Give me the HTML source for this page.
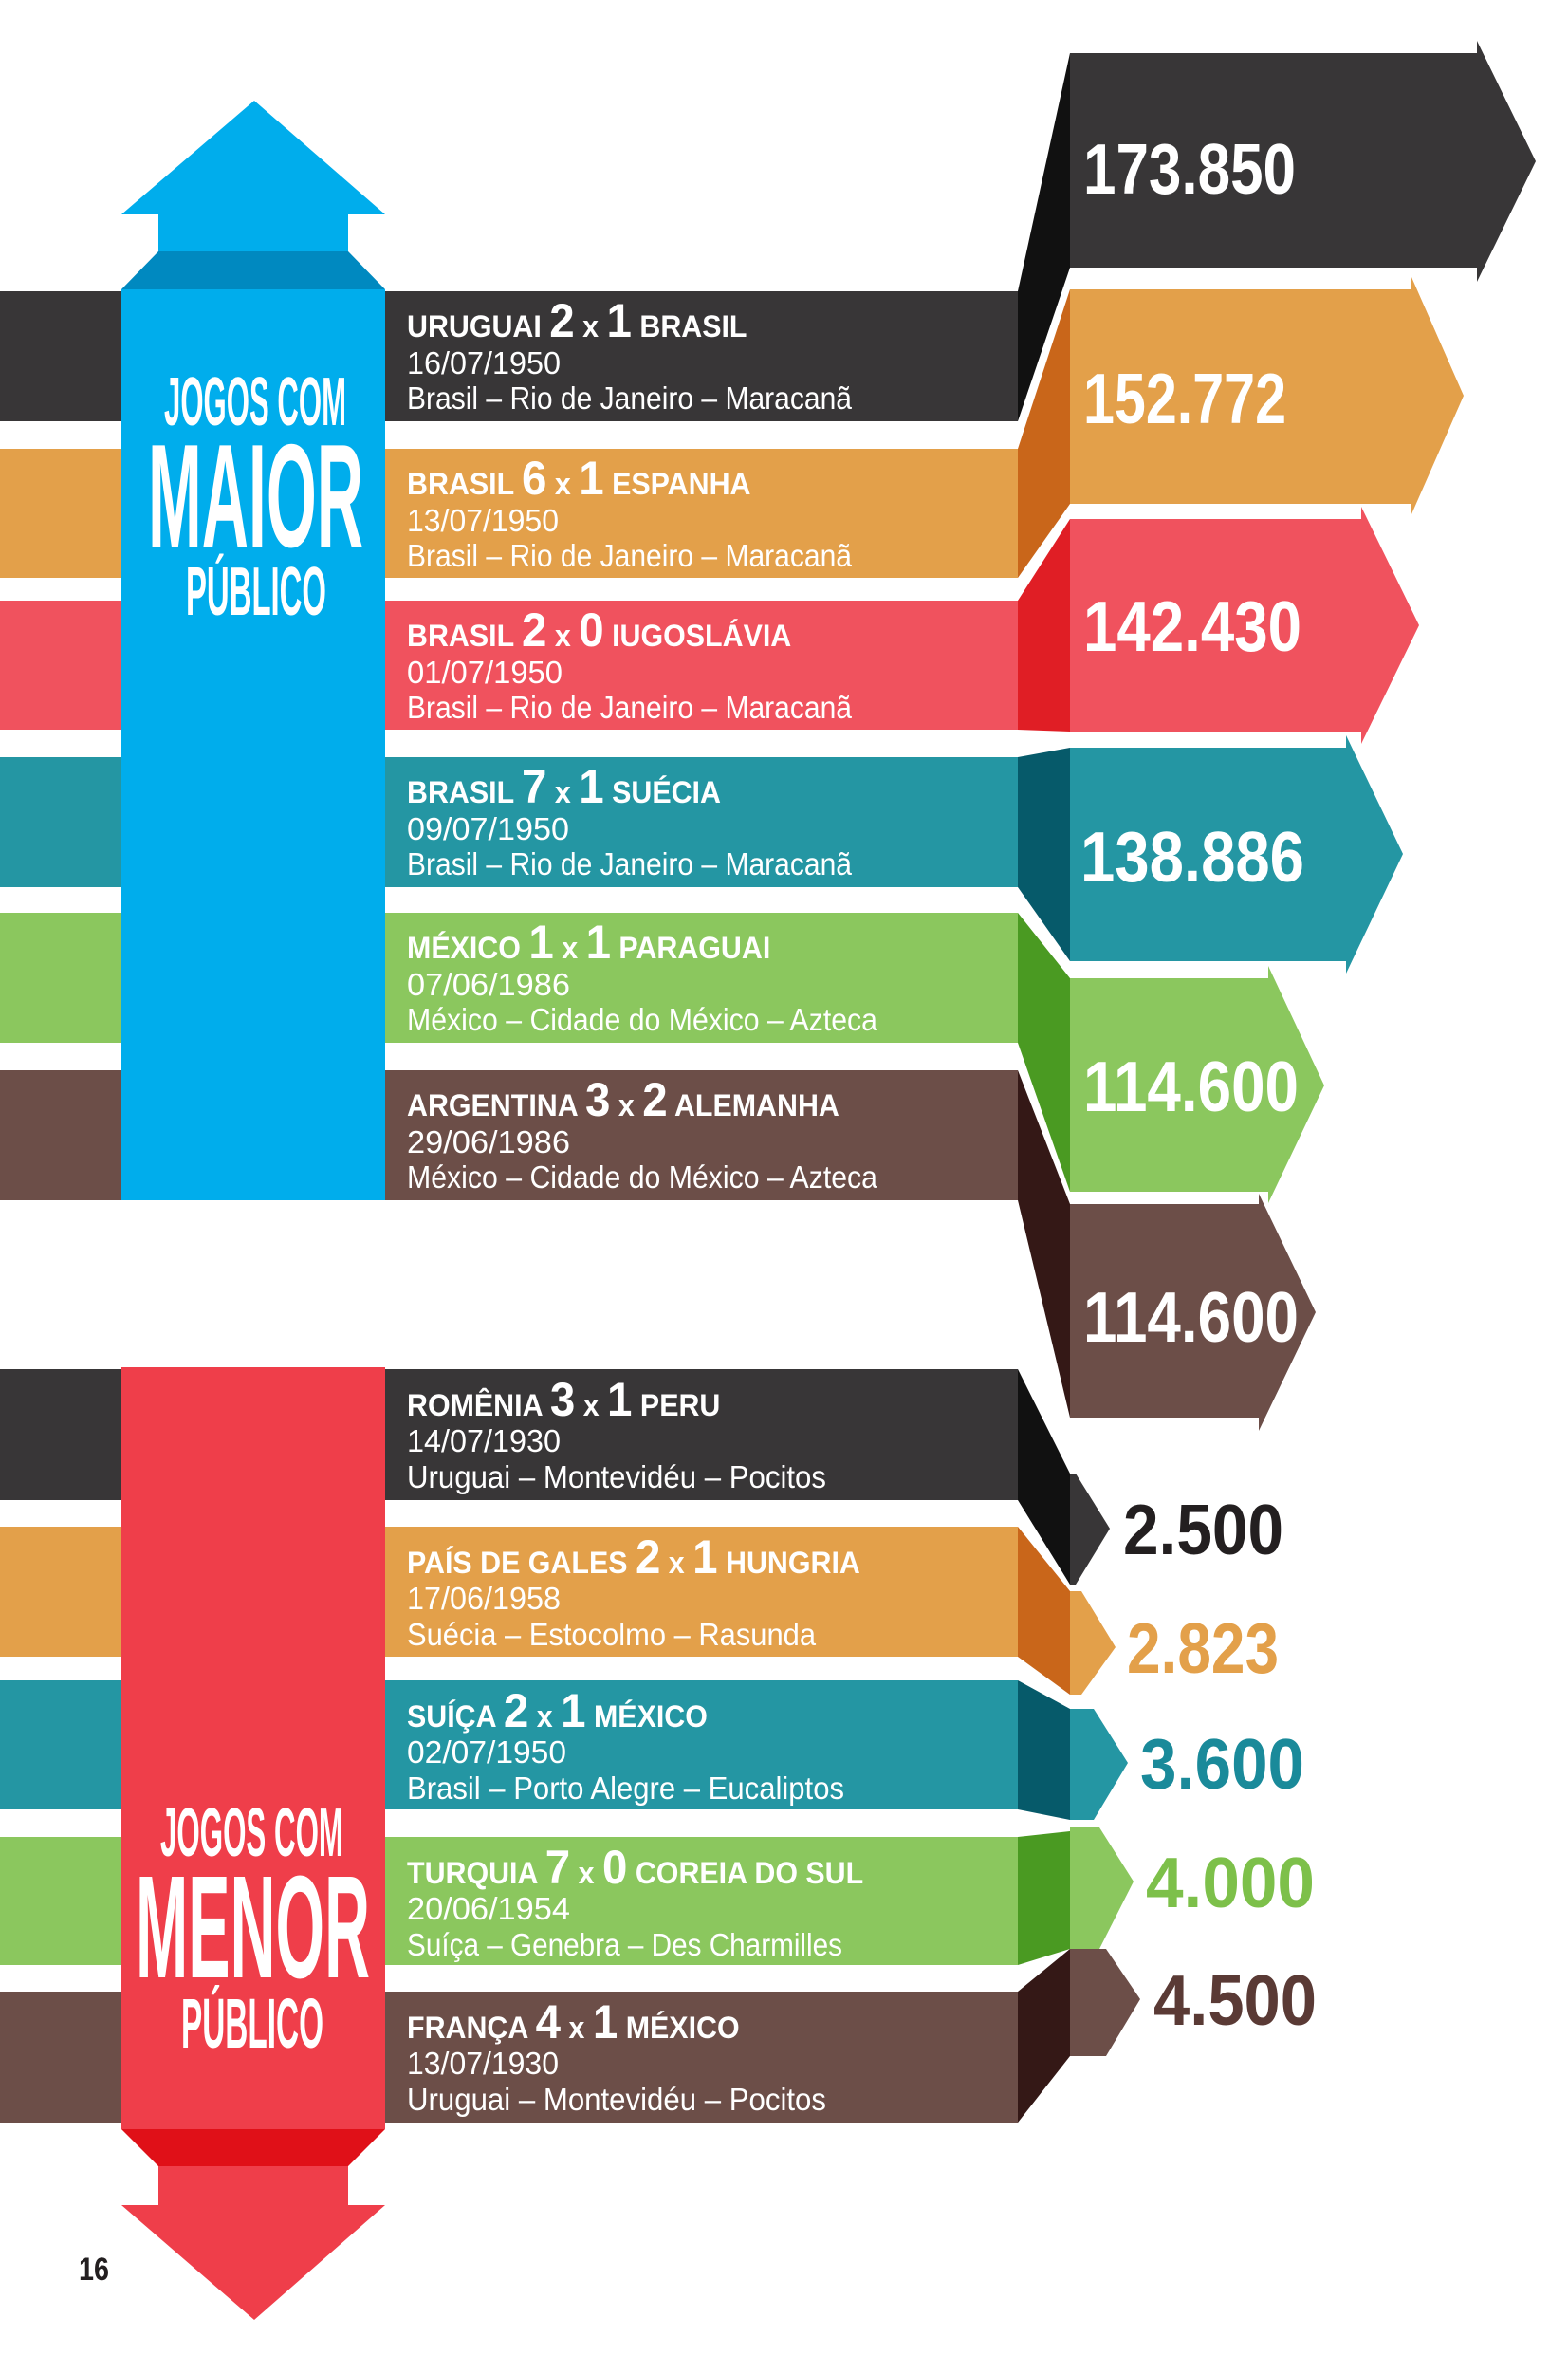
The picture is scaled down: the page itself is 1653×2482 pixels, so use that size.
<!DOCTYPE html>
<html><head><meta charset="utf-8"><style>html,body{margin:0;padding:0;background:#fff}svg{display:block}</style></head>
<body>
<svg width="1653" height="2482" viewBox="0 0 1653 2482" xmlns="http://www.w3.org/2000/svg" font-family="Liberation Sans, sans-serif">
<rect width="1653" height="2482" fill="#fff"/>
<rect x="0" y="307" width="1073" height="137" fill="#383637"/>
<rect x="0" y="473" width="1073" height="136" fill="#e3a04a"/>
<rect x="0" y="633" width="1073" height="136" fill="#f0525e"/>
<rect x="0" y="798" width="1073" height="137" fill="#2496a3"/>
<rect x="0" y="962" width="1073" height="137" fill="#8bc75e"/>
<rect x="0" y="1128" width="1073" height="137" fill="#6c4e48"/>
<polygon points="1073,307 1128,56 1128,282 1073,444" fill="#111"/>
<polygon points="1073,473 1128,305 1128,531 1073,609" fill="#c9661a"/>
<polygon points="1073,633 1128,547 1128,771 1073,769" fill="#e01e25"/>
<polygon points="1073,798 1128,788 1128,1013 1073,935" fill="#065a6a"/>
<polygon points="1073,962 1128,1031 1128,1256 1073,1099" fill="#4a9a22"/>
<polygon points="1073,1128 1128,1269 1128,1494 1073,1265" fill="#341816"/>
<polygon points="1128,56 1557,56 1557,43 1619,170 1557,297 1557,282 1128,282" fill="#383637"/>
<polygon points="1128,305 1488,305 1488,292 1543,417 1488,542 1488,531 1128,531" fill="#e3a04a"/>
<polygon points="1128,547 1435,547 1435,534 1496,659 1435,784 1435,771 1128,771" fill="#f0525e"/>
<polygon points="1128,788 1419,788 1419,775 1479,900 1419,1026 1419,1013 1128,1013" fill="#2496a3"/>
<polygon points="1128,1031 1337,1031 1337,1018 1396,1144 1337,1268 1337,1256 1128,1256" fill="#8bc75e"/>
<polygon points="1128,1269 1327,1269 1327,1258 1387,1383 1327,1508 1327,1494 1128,1494" fill="#6c4e48"/>
<g font-weight="bold" font-size="75" fill="#fff">
<text x="1142" y="204" textLength="224" lengthAdjust="spacingAndGlyphs">173.850</text>
<text x="1142" y="446" textLength="214" lengthAdjust="spacingAndGlyphs">152.772</text>
<text x="1142" y="686" textLength="230" lengthAdjust="spacingAndGlyphs">142.430</text>
<text x="1139" y="929" textLength="236" lengthAdjust="spacingAndGlyphs">138.886</text>
<text x="1142" y="1171" textLength="227" lengthAdjust="spacingAndGlyphs">114.600</text>
<text x="1142" y="1414" textLength="227" lengthAdjust="spacingAndGlyphs">114.600</text>
</g>
<polygon points="268,106 406,226 367,226 367,265 167,265 167,226 128,226" fill="#00adec"/>
<polygon points="167,265 367,265 406,305 128,305" fill="#0089c0"/>
<rect x="128" y="305" width="278" height="960" fill="#00adec"/>
<g fill="#fff" font-weight="bold">
<text x="173" y="448" font-size="72" textLength="192" lengthAdjust="spacingAndGlyphs">JOGOS COM</text>
<text x="156" y="576" font-size="155" textLength="227" lengthAdjust="spacingAndGlyphs">MAIOR</text>
<text x="196" y="648" font-size="72" textLength="148" lengthAdjust="spacingAndGlyphs">PÚBLICO</text>
</g>
<g fill="#fff">
<g transform="translate(429,307)">
<text y="48" font-weight="bold" font-size="32" transform="scale(0.95,1)">URUGUAI <tspan font-size="50">2</tspan> x <tspan font-size="50">1</tspan> BRASIL</text>
<text y="87" font-size="33" textLength="162" lengthAdjust="spacingAndGlyphs">16/07/1950</text>
<text y="124" font-size="33" textLength="469" lengthAdjust="spacingAndGlyphs">Brasil – Rio de Janeiro – Maracanã</text></g>
<g transform="translate(429,473)">
<text y="48" font-weight="bold" font-size="32" transform="scale(0.95,1)">BRASIL <tspan font-size="50">6</tspan> x <tspan font-size="50">1</tspan> ESPANHA</text>
<text y="87" font-size="33" textLength="160" lengthAdjust="spacingAndGlyphs">13/07/1950</text>
<text y="124" font-size="33" textLength="469" lengthAdjust="spacingAndGlyphs">Brasil – Rio de Janeiro – Maracanã</text></g>
<g transform="translate(429,633)">
<text y="48" font-weight="bold" font-size="32" transform="scale(0.95,1)">BRASIL <tspan font-size="50">2</tspan> x <tspan font-size="50">0</tspan> IUGOSLÁVIA</text>
<text y="87" font-size="33" textLength="164" lengthAdjust="spacingAndGlyphs">01/07/1950</text>
<text y="124" font-size="33" textLength="469" lengthAdjust="spacingAndGlyphs">Brasil – Rio de Janeiro – Maracanã</text></g>
<g transform="translate(429,798)">
<text y="48" font-weight="bold" font-size="32" transform="scale(0.95,1)">BRASIL <tspan font-size="50">7</tspan> x <tspan font-size="50">1</tspan> SUÉCIA</text>
<text y="87" font-size="33" textLength="171" lengthAdjust="spacingAndGlyphs">09/07/1950</text>
<text y="124" font-size="33" textLength="469" lengthAdjust="spacingAndGlyphs">Brasil – Rio de Janeiro – Maracanã</text></g>
<g transform="translate(429,962)">
<text y="48" font-weight="bold" font-size="32" transform="scale(0.95,1)">MÉXICO <tspan font-size="50">1</tspan> x <tspan font-size="50">1</tspan> PARAGUAI</text>
<text y="87" font-size="33" textLength="172" lengthAdjust="spacingAndGlyphs">07/06/1986</text>
<text y="124" font-size="33" textLength="496" lengthAdjust="spacingAndGlyphs">México – Cidade do México – Azteca</text></g>
<g transform="translate(429,1128)">
<text y="48" font-weight="bold" font-size="32" transform="scale(0.95,1)">ARGENTINA <tspan font-size="50">3</tspan> x <tspan font-size="50">2</tspan> ALEMANHA</text>
<text y="87" font-size="33" textLength="172" lengthAdjust="spacingAndGlyphs">29/06/1986</text>
<text y="124" font-size="33" textLength="496" lengthAdjust="spacingAndGlyphs">México – Cidade do México – Azteca</text></g>
</g>
<rect x="0" y="1443" width="1073" height="138" fill="#383637"/>
<rect x="0" y="1609" width="1073" height="137" fill="#e3a04a"/>
<rect x="0" y="1771" width="1073" height="136" fill="#2496a3"/>
<rect x="0" y="1936" width="1073" height="135" fill="#8bc75e"/>
<rect x="0" y="2099" width="1073" height="138" fill="#6c4e48"/>
<polygon points="1073,1443 1128,1553 1128,1670 1073,1581" fill="#111"/>
<polygon points="1073,1609 1128,1677 1128,1786 1073,1746" fill="#c9661a"/>
<polygon points="1073,1771 1128,1801 1128,1918 1073,1907" fill="#065a6a"/>
<polygon points="1073,1936 1128,1930 1128,2054 1073,2071" fill="#4a9a22"/>
<polygon points="1073,2099 1128,2054 1128,2167 1073,2237" fill="#341816"/>
<polygon points="1128,1553 1134,1553 1170,1611 1134,1670 1128,1670" fill="#383637"/>
<polygon points="1128,1677 1140,1677 1176,1736 1140,1786 1128,1786" fill="#e3a04a"/>
<polygon points="1128,1801 1153,1801 1189,1858 1153,1918 1128,1918" fill="#2496a3"/>
<polygon points="1128,1926 1159,1926 1195,1983 1159,2054 1128,2054" fill="#8bc75e"/>
<polygon points="1128,2054 1166,2054 1202,2107 1166,2167 1128,2167" fill="#6c4e48"/>
<g font-weight="bold" font-size="75">
<text x="1184" y="1638" fill="#231f20" textLength="169" lengthAdjust="spacingAndGlyphs">2.500</text>
<text x="1188" y="1763" fill="#e3a04a" textLength="160" lengthAdjust="spacingAndGlyphs">2.823</text>
<text x="1202" y="1885" fill="#1a8a9a" textLength="173" lengthAdjust="spacingAndGlyphs">3.600</text>
<text x="1208" y="2010" fill="#7dc04a" textLength="178" lengthAdjust="spacingAndGlyphs">4.000</text>
<text x="1216" y="2134" fill="#5a3a35" textLength="172" lengthAdjust="spacingAndGlyphs">4.500</text>
</g>
<rect x="128" y="1441" width="278" height="803" fill="#ef3e4a"/>
<polygon points="128,2244 406,2244 367,2283 167,2283" fill="#e01018"/>
<polygon points="167,2283 367,2283 367,2324 406,2324 268,2445 128,2324 167,2324" fill="#ef3e4a"/>
<g fill="#fff" font-weight="bold">
<text x="169" y="1956" font-size="72" textLength="193" lengthAdjust="spacingAndGlyphs">JOGOS COM</text>
<text x="143" y="2084" font-size="154" textLength="247" lengthAdjust="spacingAndGlyphs">MENOR</text>
<text x="191" y="2158" font-size="74" textLength="150" lengthAdjust="spacingAndGlyphs">PÚBLICO</text>
</g>
<g fill="#fff">
<g transform="translate(429,1443)">
<text y="49" font-weight="bold" font-size="32" transform="scale(0.95,1)">ROMÊNIA <tspan font-size="50">3</tspan> x <tspan font-size="50">1</tspan> PERU</text>
<text y="87" font-size="33" textLength="162" lengthAdjust="spacingAndGlyphs">14/07/1930</text>
<text y="125" font-size="33" textLength="442" lengthAdjust="spacingAndGlyphs">Uruguai – Montevidéu – Pocitos</text></g>
<g transform="translate(429,1609)">
<text y="49" font-weight="bold" font-size="32" transform="scale(0.95,1)">PAÍS DE GALES <tspan font-size="50">2</tspan> x <tspan font-size="50">1</tspan> HUNGRIA</text>
<text y="87" font-size="33" textLength="162" lengthAdjust="spacingAndGlyphs">17/06/1958</text>
<text y="125" font-size="33" textLength="431" lengthAdjust="spacingAndGlyphs">Suécia – Estocolmo –  Rasunda</text></g>
<g transform="translate(429,1771)">
<text y="49" font-weight="bold" font-size="32" transform="scale(0.95,1)">SUÍÇA <tspan font-size="50">2</tspan> x <tspan font-size="50">1</tspan> MÉXICO</text>
<text y="87" font-size="33" textLength="168" lengthAdjust="spacingAndGlyphs">02/07/1950</text>
<text y="125" font-size="33" textLength="461" lengthAdjust="spacingAndGlyphs">Brasil – Porto Alegre – Eucaliptos</text></g>
<g transform="translate(429,1936)">
<text y="49" font-weight="bold" font-size="32" transform="scale(0.95,1)">TURQUIA <tspan font-size="50">7</tspan> x <tspan font-size="50">0</tspan> COREIA DO SUL</text>
<text y="87" font-size="33" textLength="172" lengthAdjust="spacingAndGlyphs">20/06/1954</text>
<text y="125" font-size="33" textLength="459" lengthAdjust="spacingAndGlyphs">Suíça – Genebra – Des Charmilles</text></g>
<g transform="translate(429,2099)">
<text y="49" font-weight="bold" font-size="32" transform="scale(0.95,1)">FRANÇA <tspan font-size="50">4</tspan> x <tspan font-size="50">1</tspan> MÉXICO</text>
<text y="87" font-size="33" textLength="160" lengthAdjust="spacingAndGlyphs">13/07/1930</text>
<text y="125" font-size="33" textLength="442" lengthAdjust="spacingAndGlyphs">Uruguai – Montevidéu – Pocitos</text></g>
</g>
<text x="83" y="2403" font-weight="bold" font-size="34" fill="#231f20" textLength="32" lengthAdjust="spacingAndGlyphs">16</text>
</svg>
</body></html>
